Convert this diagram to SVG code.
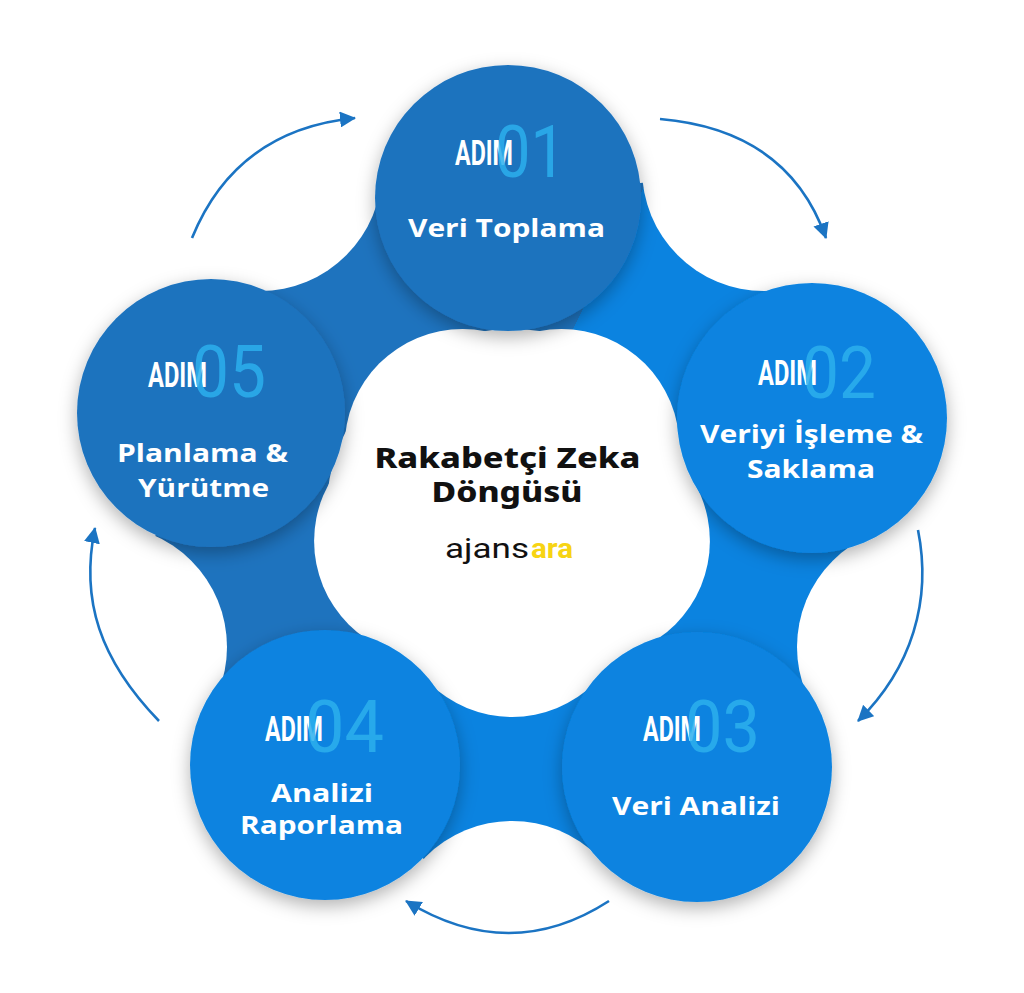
<svg xmlns="http://www.w3.org/2000/svg" width="1024" height="993" viewBox="0 0 1024 993">
  <defs>
    <linearGradient id="blobGrad" gradientUnits="userSpaceOnUse" x1="494" y1="484.5" x2="496" y2="485.5">
      <stop offset="0.5" stop-color="#1e73be"/>
      <stop offset="0.5" stop-color="#0b83e0"/>
    </linearGradient>
    <filter id="shadow" x="-25%" y="-25%" width="150%" height="155%">
      <feDropShadow dx="0" dy="6" stdDeviation="9" flood-color="#000" flood-opacity="0.3"/>
    </filter>
    <marker id="arrow" viewBox="0 0 16 16" markerWidth="16" markerHeight="16" refX="15" refY="8" orient="auto" markerUnits="userSpaceOnUse">
      <path d="M0,0 L16,8 L0,16 z" fill="#1b74c3"/>
    </marker>
  </defs>
  <style>
    .bg { fill: #ffffff; }
    .dark { fill: #1e73be; }
    .bright { fill: #0b83e0; }
    .white { fill: #ffffff; }
    .adim { font-family: Roboto, "Liberation Sans", sans-serif; font-weight: 700; font-size: 35px; fill: #ffffff; }
    .num { font-family: Roboto, "Open Sans", sans-serif; font-weight: 400; font-size: 73px; fill: #2cb0ee; opacity: 0.85; }
    .title { font-family: "Open Sans", "Noto Sans", sans-serif; font-weight: 700; font-size: 25px; fill: #ffffff; text-anchor: middle; }
    .center { font-family: "Noto Sans", "Open Sans", sans-serif; font-weight: 800; font-size: 28px; fill: #111111; text-anchor: middle; }
    .logo { font-family: Roboto, "Liberation Sans", sans-serif; font-size: 28px; }
    .conn { fill: none; stroke: #1b74c3; stroke-width: 2.6; marker-end: url(#arrow); }
  </style>

  <rect class="bg" x="0" y="0" width="1024" height="993"/>

  <g id="blob">
    <polygon fill="url(#blobGrad)" points="508,198 764,169 812,420 919,647 697,767 512,943 325,765 105,647 211,413 260,169"/>
    <circle class="white" cx="260" cy="169" r="122"/>
    <circle class="white" cx="764" cy="169" r="122"/>
    <circle class="white" cx="919" cy="647" r="122"/>
    <circle class="white" cx="512" cy="943" r="122"/>
    <circle class="white" cx="105" cy="647" r="122"/>
    <circle class="white" cx="512" cy="515" r="186"/>
    <circle class="white" cx="462.6" cy="447" r="118"/>
    <circle class="white" cx="561.4" cy="447" r="118"/>
    <circle class="white" cx="591.9" cy="541" r="118"/>
    <circle class="white" cx="512" cy="599" r="118"/>
    <circle class="white" cx="432.1" cy="541" r="118"/>
  </g>

  <g id="connectors">
    <path class="conn" d="M192,238 Q236,130 355,118"/>
    <path class="conn" d="M660,119 Q788,130 826,238"/>
    <path class="conn" d="M918,530 C932,600 912,668 858,721"/>
    <path class="conn" d="M609,901 Q510,965 406,901"/>
    <path class="conn" d="M159,721 C100,660 80,600 95,528"/>
  </g>

  <g id="node1">
    <circle class="dark" cx="508" cy="198" r="133" filter="url(#shadow)"/>
    <text class="adim" x="455" y="165" textLength="58" lengthAdjust="spacingAndGlyphs">ADIM</text>
    <text class="num" x="495" y="177" textLength="71" lengthAdjust="spacingAndGlyphs">01</text>
    <text class="title" x="506.5" y="237" textLength="197" lengthAdjust="spacingAndGlyphs">Veri Toplama</text>
  </g>

  <g id="node2">
    <circle class="bright" cx="812" cy="418" r="135" filter="url(#shadow)"/>
    <text class="adim" x="758" y="385" textLength="59" lengthAdjust="spacingAndGlyphs">ADIM</text>
    <text class="num" x="802" y="398" textLength="74" lengthAdjust="spacingAndGlyphs">02</text>
    <text class="title" x="811.5" y="443" textLength="223" lengthAdjust="spacingAndGlyphs">Veriyi İşleme &amp;</text>
    <text class="title" x="811" y="478" textLength="128" lengthAdjust="spacingAndGlyphs">Saklama</text>
  </g>

  <g id="node3">
    <circle class="bright" cx="697" cy="767" r="135" filter="url(#shadow)"/>
    <text class="adim" x="643" y="741" textLength="58" lengthAdjust="spacingAndGlyphs">ADIM</text>
    <text class="num" x="685" y="752" textLength="75" lengthAdjust="spacingAndGlyphs">03</text>
    <text class="title" x="696" y="815" textLength="168" lengthAdjust="spacingAndGlyphs">Veri Analizi</text>
  </g>

  <g id="node4">
    <circle class="bright" cx="325" cy="765" r="135" filter="url(#shadow)"/>
    <text class="adim" x="265" y="741" textLength="58" lengthAdjust="spacingAndGlyphs">ADIM</text>
    <text class="num" x="305" y="752" textLength="79" lengthAdjust="spacingAndGlyphs">04</text>
    <text class="title" x="322" y="802" textLength="102" lengthAdjust="spacingAndGlyphs">Analizi</text>
    <text class="title" x="321.5" y="834" textLength="163" lengthAdjust="spacingAndGlyphs">Raporlama</text>
  </g>

  <g id="node5">
    <circle class="dark" cx="211" cy="413" r="134" filter="url(#shadow)"/>
    <text class="adim" x="148" y="387" textLength="59" lengthAdjust="spacingAndGlyphs">ADIM</text>
    <text class="num" x="192" y="397" textLength="74" lengthAdjust="spacingAndGlyphs">05</text>
    <text class="title" x="202.5" y="462" textLength="171" lengthAdjust="spacingAndGlyphs">Planlama &amp;</text>
    <text class="title" x="203.5" y="497" textLength="131" lengthAdjust="spacingAndGlyphs">Yürütme</text>
  </g>

  <g id="center">
    <text class="center" x="507.5" y="468" textLength="266" lengthAdjust="spacingAndGlyphs">Rakabetçi Zeka</text>
    <text class="center" x="507" y="502" textLength="151" lengthAdjust="spacingAndGlyphs">Döngüsü</text>
    <text class="logo" x="445" y="558" textLength="84" lengthAdjust="spacingAndGlyphs" fill="#111111" font-weight="400">ajans</text>
    <text class="logo" x="531" y="558" textLength="42" lengthAdjust="spacingAndGlyphs" fill="#f7d414" font-weight="700">ara</text>
  </g>
</svg>
